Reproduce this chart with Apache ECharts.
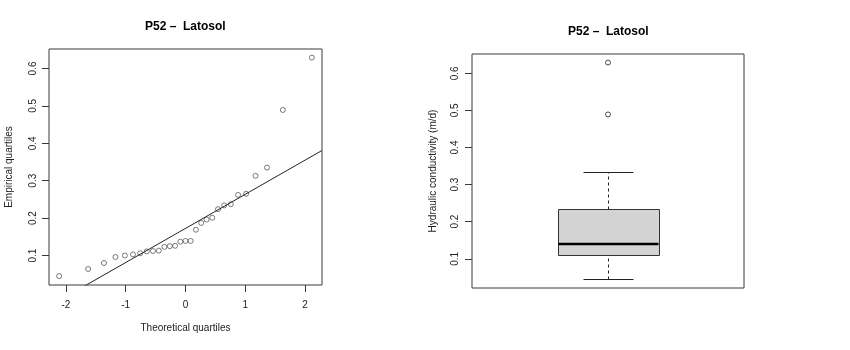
<!DOCTYPE html>
<html>
<head>
<meta charset="utf-8">
<script src="https://cdn.jsdelivr.net/npm/echarts@6/dist/echarts.min.js"></script>
<style>
html,body{margin:0;padding:0;background:#fff;}
#chart{width:850px;height:350px;}
</style>
</head>
<body>
<div id="chart"></div>
<script>
// ---- data ----
const titleText = 'P52 \u2013  Latosol';
// sorted empirical values (hydraulic conductivity, m/d)
const empirical = [0.045, 0.064, 0.080, 0.096, 0.100, 0.103, 0.106, 0.111, 0.112, 0.113,
  0.123, 0.125, 0.126, 0.137, 0.139, 0.139, 0.169, 0.187, 0.196, 0.201,
  0.224, 0.234, 0.237, 0.262, 0.265, 0.313, 0.335, 0.489, 0.629];
// theoretical normal quantiles for n = 29
const theoretical = [-2.1145, -1.6286, -1.3641, -1.1716, -1.0142, -0.8792, -0.7582, -0.6474,
  -0.5443, -0.4466, -0.3530, -0.2622, -0.1738, -0.0866, 0, 0.0866, 0.1738, 0.2622,
  0.3530, 0.4466, 0.5443, 0.6474, 0.7582, 0.8792, 1.0142, 1.1716, 1.3641, 1.6286, 2.1145];
const xTicks = [-2, -1, 0, 1, 2];
const yTicks = [0.1, 0.2, 0.3, 0.4, 0.5, 0.6];

// ---- derived statistics ----
const n = empirical.length;
function q7(p){ const h=(n-1)*p, lo=Math.floor(h), hi=Math.ceil(h); return empirical[lo]+(h-lo)*(empirical[hi]-empirical[lo]); }
const zq = 0.6744898;
const slope = (q7(0.75)-q7(0.25))/(2*zq);
const intercept = q7(0.25) + zq*slope;
// fivenum hinges
const n4 = Math.floor((n+3)/2)/2;
const dIdx = [1, n4, (n+1)/2, n+1-n4, n];
const five = dIdx.map(d => 0.5*(empirical[Math.floor(d)-1]+empirical[Math.ceil(d)-1]));
const iqr = five[3]-five[1];
const inside = empirical.filter(v => v >= five[1]-1.5*iqr && v <= five[3]+1.5*iqr);
const lowW = Math.min.apply(null, inside), upW = Math.max.apply(null, inside);
const outliers = empirical.filter(v => v < lowW || v > upW);

const yMin = 0.0212, yMax = 0.652;
const xMin = -2.284, xMax = 2.284;

const FONT = 'Liberation Sans, Arial, sans-serif';
const INK = '#222';
const FRAME = '#3a3a3a';

const chart = echarts.init(document.getElementById('chart'), null, {renderer:'canvas'});

function valAxis(extra){
  return Object.assign({
    type:'value', splitLine:{show:false},
    axisLine:{show:false, onZero:false},
    nameTextStyle:{color:INK, fontFamily:FONT, fontSize:10},
    nameLocation:'middle'
  }, extra);
}
function ticks(vals){ return {show:true, length:7, customValues:vals, lineStyle:{color:FRAME, width:1}}; }
const ringStyle = {color:'rgba(255,255,255,0)', borderColor:'#333', borderWidth:0.8};

const option = {
  animation:false,
  backgroundColor:'#fff',
  graphic:[
    {type:'text', left:145, top:21, style:{text:titleText, font:'bold 12px '+FONT, fill:'#000'}},
    {type:'text', left:568, top:26, style:{text:titleText, font:'bold 12px '+FONT, fill:'#000'}}
  ],
  grid:[
    {left:49, top:49, width:273, height:236, show:true, borderColor:FRAME, borderWidth:1, backgroundColor:'transparent'},
    {left:472, top:54, width:272, height:234, show:true, borderColor:FRAME, borderWidth:1, backgroundColor:'transparent'}
  ],
  xAxis:[
    valAxis({gridIndex:0, min:xMin, max:xMax, name:'Theoretical quartiles', nameGap:38,
      axisTick:ticks(xTicks),
      axisLabel:{color:INK, fontFamily:FONT, fontSize:10, margin:15, customValues:xTicks,
        formatter: v => String(v)}}),
    {type:'value', gridIndex:1, min:0.46, max:1.54, show:false, axisLine:{onZero:false}}
  ],
  yAxis:[
    valAxis({gridIndex:0, min:yMin, max:yMax, name:'Empirical quartiles', nameGap:35,
      axisTick:ticks(yTicks),
      axisLabel:{color:INK, fontFamily:FONT, fontSize:10, margin:11, rotate:90, customValues:yTicks,
        formatter: v => String(Math.round(v*10)/10)}}),
    valAxis({gridIndex:1, min:yMin, max:yMax, name:'Hydraulic conductivity (m/d)', nameGap:34,
      axisTick:ticks(yTicks),
      axisLabel:{color:INK, fontFamily:FONT, fontSize:10, margin:12, rotate:90, customValues:yTicks,
        formatter: v => String(Math.round(v*10)/10)}})
  ],
  series:[
    {type:'scatter', xAxisIndex:0, yAxisIndex:0, symbol:'circle', symbolSize:5,
      itemStyle:ringStyle,
      data: theoretical.map((t,i) => [t, empirical[i]]), silent:true},
    {type:'line', xAxisIndex:0, yAxisIndex:0, showSymbol:false, clip:true,
      lineStyle:{color:'#222', width:1},
      data:[[xMin, intercept+slope*xMin],[xMax, intercept+slope*xMax]], silent:true},
    {type:'custom', xAxisIndex:1, yAxisIndex:1, silent:true,
      data:[[1, lowW, five[1], five[2], five[3], upW]],
      encode:{x:0, y:[1,2,3,4,5]},
      renderItem: function(params, api){
        const x = api.value(0);
        const c = (dx, v) => api.coord([x+dx, api.value(v)]);
        const bl = c(-0.2, 2), tr = c(0.2, 4);
        const med0 = c(-0.2, 3), med1 = c(0.2, 3);
        const wl = c(0, 1), ql = c(0, 2), qu = c(0, 4), wu = c(0, 5);
        const capL0 = c(-0.1, 1), capL1 = c(0.1, 1), capU0 = c(-0.1, 5), capU1 = c(0.1, 5);
        const r = v => Math.round(v)+0.5;
        const ln = (a, b, style) => ({type:'line', shape:{x1:r(a[0]), y1:r(a[1]), x2:r(b[0]), y2:r(b[1])}, style:style});
        const solid = {stroke:'#222', lineWidth:1};
        const dashed = {stroke:'#222', lineWidth:1, lineDash:[3,3]};
        return {type:'group', children:[
          ln(wl, ql, dashed),
          ln(qu, wu, dashed),
          ln(capL0, capL1, solid),
          ln(capU0, capU1, solid),
          {type:'rect', shape:{x:r(bl[0]), y:r(tr[1]), width:Math.round(tr[0]-bl[0]), height:Math.round(bl[1]-tr[1])},
            style:{fill:'#d3d3d3', stroke:'#333', lineWidth:1}},
          {type:'line', shape:{x1:r(med0[0]), y1:Math.round(med0[1]), x2:r(med1[0]), y2:Math.round(med1[1])},
            style:{stroke:'#000', lineWidth:2.5}}
        ]};
      }},
    {type:'scatter', xAxisIndex:1, yAxisIndex:1, symbol:'circle', symbolSize:5,
      itemStyle:{color:'rgba(255,255,255,0)', borderColor:'#222', borderWidth:1}, silent:true,
      data: outliers.map(v => [1, v])}
  ]
};
chart.setOption(option);
</script>
</body>
</html>
